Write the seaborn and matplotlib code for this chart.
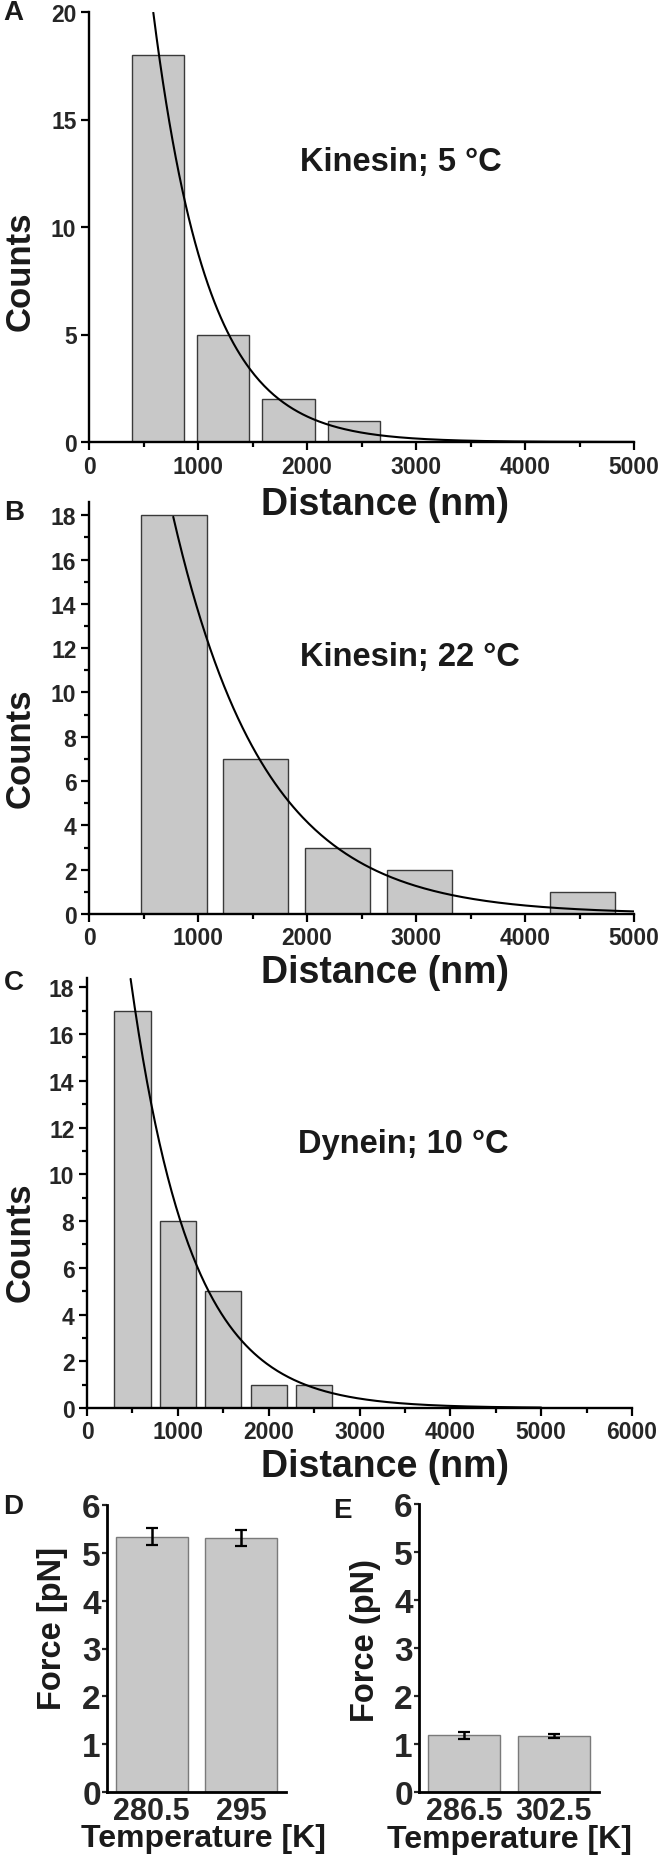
import numpy as np
import matplotlib
matplotlib.use("Agg")
import matplotlib.pyplot as plt
import seaborn as sns
from matplotlib.ticker import MultipleLocator

# histogram bins (centres in nm) and counts
a_centers = [630, 1230, 1830, 2430]
a_counts = [18, 5, 2, 1]
a_binwidth = 600
b_centers = [780, 1530, 2280, 3030, 3780, 4530]
b_counts = [18, 7, 3, 2, 0, 1]
b_binwidth = 750
c_centers = [500, 1000, 1500, 2000, 2500]
c_counts = [17, 8, 5, 1, 1]
c_binwidth = 500

# exponential fits: amplitude, decay length (nm), first x drawn
a_fit = (65.0, 500.0, 590)
b_fit = (45.0, 840.0, 773)
c_fit = (38.0, 660.0, 480)

# stall forces
d_temps = ["280.5", "295"]
d_force = [5.34, 5.31]
d_err = [0.17, 0.17]
e_temps = ["286.5", "302.5"]
e_force = [1.18, 1.17]
e_err = [0.07, 0.04]

sns.set_style("ticks")
plt.rcParams['font.family'] = ['Liberation Sans', 'DejaVu Sans']
plt.rcParams['font.weight'] = 'bold'
plt.rcParams['text.color'] = '#1a1a1a'
plt.rcParams['axes.labelweight'] = 'bold'
plt.rcParams['axes.labelcolor'] = '#1a1a1a'

W, H = 664, 1858
fig = plt.figure(figsize=(W / 100, H / 100), dpi=100)


def px_axes(l, t, r, b):
    ax = fig.add_axes([l / W, 1 - b / H, (r - l) / W, (b - t) / H])
    ax.patch.set_visible(False)
    return ax


def style(ax, lw=1.7):
    sns.despine(ax=ax)
    for s in ['left', 'bottom']:
        ax.spines[s].set_linewidth(lw)
        ax.spines[s].set_color('black')


def hist_panel(ax, centers, counts, bw, fit, xmax, ymax, text, text_y, ymajor, yminor):
    sns.histplot(x=centers, weights=counts, binwidth=bw,
                 binrange=(centers[0] - bw / 2, centers[-1] + bw / 2),
                 shrink=0.8, color='#c8c8c8', edgecolor='#3a3a3a',
                 linewidth=1, alpha=1, ax=ax)
    amp, length, x0 = fit
    xs = np.linspace(x0, 5000, 300)
    sns.lineplot(x=xs, y=amp * np.exp(-xs / length), color='black', lw=1.5, ax=ax)
    ax.set_xlim(0, xmax)
    ax.set_ylim(0, ymax)
    ax.xaxis.set_major_locator(MultipleLocator(1000))
    ax.xaxis.set_minor_locator(MultipleLocator(500))
    ax.yaxis.set_major_locator(MultipleLocator(ymajor))
    if yminor:
        ax.yaxis.set_minor_locator(MultipleLocator(yminor))
    ax.tick_params(which='major', length=6, width=1.6, labelsize=16.5, pad=3, color='black')
    ax.tick_params(which='minor', length=3.5, width=1.6, color='black')
    style(ax)
    ax.set_xlabel("Distance (nm)", fontsize=27)
    ax.set_ylabel("Counts", fontsize=25)
    ax.xaxis.label.set_va('center')
    ax.yaxis.label.set_va('center')
    ax.text(0.388, text_y, text, transform=ax.transAxes, fontsize=23.5,
            ha='left', va='center')


axA = px_axes(89, 13, 634, 443)
hist_panel(axA, a_centers, a_counts, a_binwidth, a_fit, 5000, 20,
           "Kinesin; 5 °C", 0.653, 5, None)
axA.xaxis.set_label_coords(0.543, -0.144)
axA.yaxis.set_label_coords(-0.126, 0.40)

axB = px_axes(89, 503, 634, 915)
hist_panel(axB, b_centers, b_counts, b_binwidth, b_fit, 5000, 18.6,
           "Kinesin; 22 °C", 0.624, 2, 1)
axB.xaxis.set_label_coords(0.543, -0.14)
axB.yaxis.set_label_coords(-0.126, 0.405)

axC = px_axes(87, 979, 632, 1409)
hist_panel(axC, c_centers, c_counts, c_binwidth, c_fit, 6000, 18.4,
           "Dynein; 10 °C", 0.614, 2, 1)
axC.xaxis.set_label_coords(0.546, -0.135)
axC.yaxis.set_label_coords(-0.123, 0.388)


def force_panel(ax, temps, force, err, ylabel):
    sns.barplot(x=temps, y=force, color='#c8c8c8', saturation=1,
                edgecolor='#7a7a7a', linewidth=1, width=0.8, ax=ax)
    ax.errorbar(range(len(temps)), force, yerr=err, fmt='none', ecolor='black',
                elinewidth=1.8, capsize=4, capthick=1.6)
    ax.set_xlim(-0.5, 1.5)
    ax.set_ylim(0, 6)
    ax.yaxis.set_major_locator(MultipleLocator(1))
    ax.tick_params(axis='y', length=3.5, width=1.6, labelsize=24, pad=1)
    ax.tick_params(axis='x', length=0, labelsize=22, pad=3)
    style(ax, 2)
    ax.set_xlabel("Temperature [K]", fontsize=23)
    ax.set_ylabel(ylabel, fontsize=23.5)
    ax.xaxis.label.set_va('center')
    ax.yaxis.label.set_va('center')


axD = px_axes(107, 1506, 286, 1793)
force_panel(axD, d_temps, d_force, d_err, "Force [pN]")
axD.xaxis.set_label_coords(0.536, -0.162)
axD.yaxis.set_label_coords(-0.302, 0.575)

axE = px_axes(419, 1505, 599, 1793)
force_panel(axE, e_temps, e_force, e_err, "Force (pN)")
axE.xaxis.set_label_coords(0.5, -0.162)
axE.yaxis.set_label_coords(-0.30, 0.531)

for letter, x, y in [("A", 3, 13), ("B", 4, 513), ("C", 4, 983),
                     ("D", 3, 1507), ("E", 333, 1511)]:
    fig.text(x / W, 1 - y / H, letter, fontsize=20, ha='left', va='center')

fig.savefig("out.png", dpi=100)
